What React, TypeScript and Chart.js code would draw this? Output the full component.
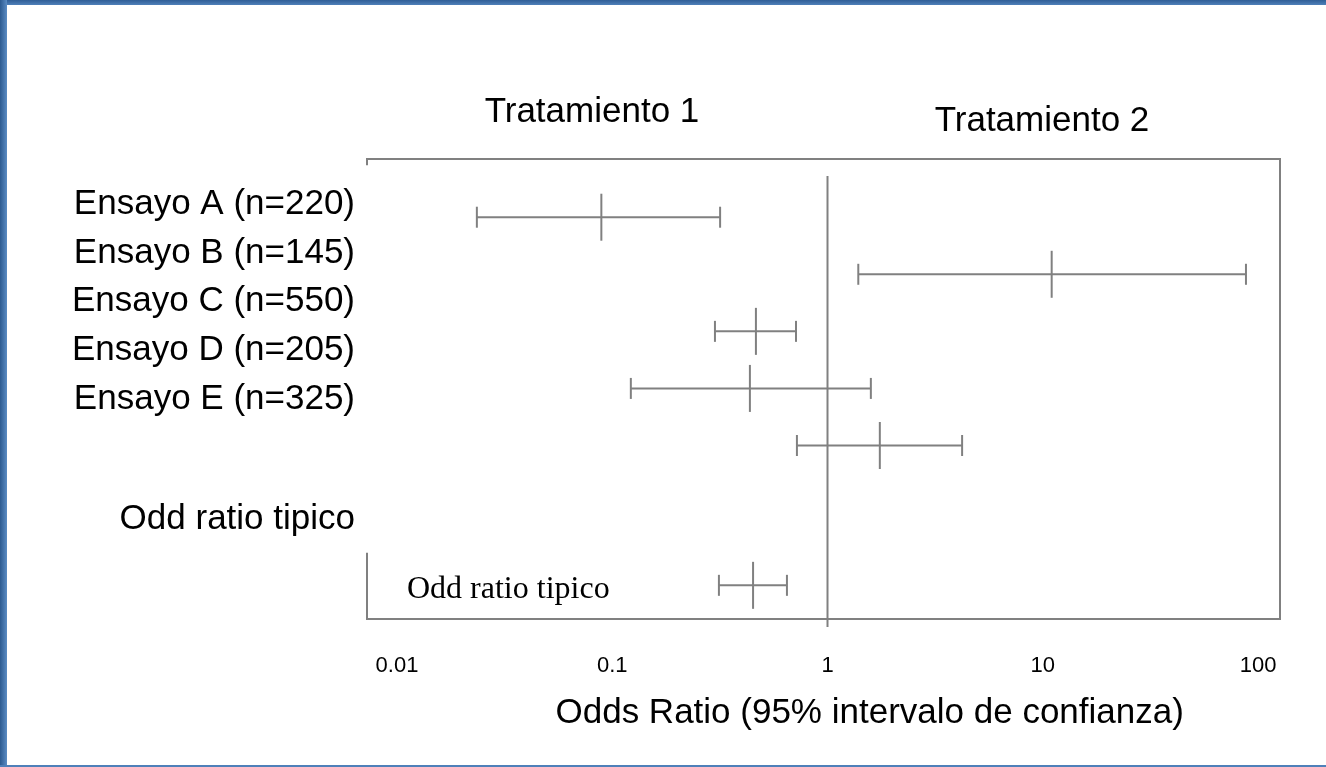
import React, { useEffect, useRef } from "react";
import { Chart, registerables } from "chart.js";

Chart.register(...registerables);

// ---- data ----
const studyLabels = [
  "Ensayo A (n=220)",
  "Ensayo B (n=145)",
  "Ensayo C (n=550)",
  "Ensayo D (n=205)",
  "Ensayo E (n=325)",
  "Odd ratio tipico",
];
const rowSlots = [1, 2, 3, 4, 5, 7.45];
const lowerCI = [0.0235, 1.39, 0.3, 0.122, 0.721, 0.313];
const oddsRatio = [0.089, 11.0, 0.465, 0.436, 1.75, 0.451];
const upperCI = [0.317, 87.9, 0.714, 1.59, 4.22, 0.648];
const xTickValues = [0.01, 0.1, 1, 10, 100];
const nullEffect = 1;
const groupLabels = ["Tratamiento 1", "Tratamiento 2"];
const xTitle = "Odds Ratio (95% intervalo de confianza)";
const pooledNote = "Odd ratio tipico";

const GRAY = "#808080";
const SANS = '"Liberation Sans", Arial, Helvetica, sans-serif';
const SERIF = '"Liberation Serif", "Times New Roman", serif';

const annotate = {
  id: "annotate",
  beforeDatasetsDraw(chart: any) {
    const { ctx, chartArea: a, scales } = chart;
    ctx.save();
    ctx.strokeStyle = GRAY;
    ctx.lineWidth = 2;
    ctx.lineCap = "butt";
    ctx.lineJoin = "miter";
    ctx.beginPath();
    const yTopStub = scales.y.getPixelForValue(0.09);
    const yBotStub = scales.y.getPixelForValue(6.88);
    ctx.moveTo(a.left, yTopStub);
    ctx.lineTo(a.left, a.top);
    ctx.lineTo(a.right, a.top);
    ctx.lineTo(a.right, a.bottom);
    ctx.lineTo(a.left, a.bottom);
    ctx.lineTo(a.left, yBotStub);
    ctx.stroke();

    ctx.fillStyle = "#000";
    ctx.font = `35px ${SANS}`;
    ctx.textAlign = "center";
    ctx.textBaseline = "middle";
    ctx.fillText(groupLabels[0], scales.x.getPixelForValue(0.0805), 112);
    ctx.fillText(groupLabels[1], scales.x.getPixelForValue(9.92), 121);
    ctx.fillText(xTitle, scales.x.getPixelForValue(1.57), 713);

    ctx.font = `32px ${SERIF}`;
    ctx.textAlign = "left";
    ctx.textBaseline = "alphabetic";
    ctx.fillText(pooledNote, a.left + 40, 598);
    ctx.restore();
  },
};

export default function App() {
  const ref = useRef<HTMLCanvasElement | null>(null);

  useEffect(() => {
    if (!ref.current) return;
    const rowSets = rowSlots.map((y, i) => ({
      data: [
        { x: lowerCI[i], y },
        { x: oddsRatio[i], y },
        { x: upperCI[i], y },
      ],
      showLine: true,
      borderColor: GRAY,
      borderWidth: 2,
      pointStyle: "line",
      pointRotation: 90,
      pointRadius: [10.5, 23.5, 10.5],
      pointBorderColor: GRAY,
      pointBackgroundColor: GRAY,
      pointBorderWidth: 2,
      fill: false,
    }));
    const refLine = {
      data: [
        { x: nullEffect, y: 0.28 },
        { x: nullEffect, y: 8.18 },
      ],
      showLine: true,
      borderColor: GRAY,
      borderWidth: 2,
      pointRadius: 0,
      fill: false,
      clip: false,
    };

    const chart = new Chart(ref.current, {
      type: "scatter",
      data: { datasets: [refLine, ...rowSets] as any },
      options: {
        responsive: false,
        animation: false,
        events: [],
        layout: { padding: { top: 159, right: 46, left: 0, bottom: 0 } },
        plugins: { legend: { display: false }, tooltip: { enabled: false } },
        scales: {
          x: {
            type: "logarithmic",
            min: 0.007256,
            max: 126.5,
            afterBuildTicks: (s: any) => {
              s.ticks = xTickValues.map((v) => ({ value: v }));
            },
            afterFit: (s: any) => {
              s.height = 148;
            },
            ticks: {
              callback: (v: any) => String(v),
              font: { family: SANS, size: 22 },
              color: "#000",
              padding: 34,
              maxRotation: 0,
              autoSkip: false,
            },
            grid: { display: false, drawTicks: false, tickLength: 0 },
            border: { display: false },
          },
          y: {
            type: "linear",
            min: -0.02,
            max: 8.04,
            reverse: true,
            display: false,
          },
          y2: {
            type: "linear",
            position: "left",
            min: 0.075,
            max: 9.501,
            reverse: true,
            afterBuildTicks: (s: any) => {
              s.ticks = rowSlots.map((v) => ({ value: v }));
            },
            afterFit: (s: any) => {
              s.width = 367;
            },
            ticks: {
              callback: (_v: any, i: number) => studyLabels[i],
              font: { family: SANS, size: 35 },
              color: "#000",
              padding: 12,
              autoSkip: false,
            },
            grid: { display: false, drawTicks: false, tickLength: 0 },
            border: { display: false },
          },
        } as any,
      },
      plugins: [annotate],
    });
    return () => chart.destroy();
  }, []);

  return (
    <div
      style={{
        position: "fixed",
        left: 0,
        top: 0,
        width: 1326,
        height: 767,
        background: "#fff",
        overflow: "hidden",
      }}
    >
      <canvas
        ref={ref}
        width={1326}
        height={767}
        style={{ position: "absolute", left: 0, top: 0, width: 1326, height: 767 }}
      />
      <div
        style={{
          position: "absolute",
          left: 0,
          top: 0,
          width: 1326,
          height: 5,
          background: "linear-gradient(to bottom, #2f5e96, #4f80b9)",
        }}
      />
      <div
        style={{
          position: "absolute",
          left: 0,
          top: 0,
          width: 7,
          height: 767,
          background: "linear-gradient(to right, #2c5a90, #5b8cc4)",
        }}
      />
      <div
        style={{
          position: "absolute",
          left: 0,
          top: 765,
          width: 1326,
          height: 2,
          background: "#4f80b9",
        }}
      />
    </div>
  );
}
